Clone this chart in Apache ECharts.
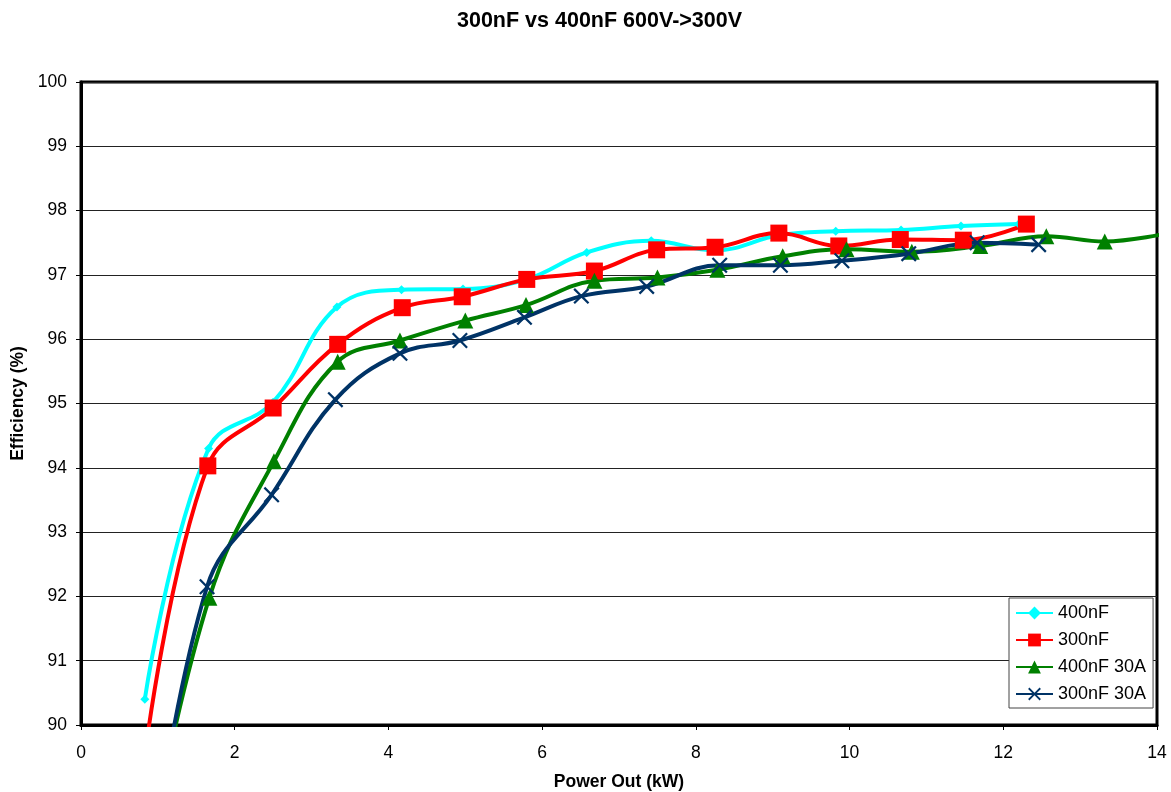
<!DOCTYPE html>
<html><head><meta charset="utf-8">
<script src="https://cdn.jsdelivr.net/npm/echarts@6/dist/echarts.min.js"></script>
<style>html,body{margin:0;padding:0;background:#fff}#c{width:1171px;height:792px}</style>
</head><body><div id="c"></div>
<script>
const titleText = '300nF vs 400nF 600V->300V';
const xName = 'Power Out (kW)';
const yName = 'Efficiency (%)';
const seriesNames = ['400nF', '300nF', '400nF 30A', '300nF 30A'];

const cyanX = [0.83, 1.66, 2.50, 3.33, 4.17, 4.97, 5.80, 6.58, 7.42, 8.25, 9.09, 9.82, 10.67, 11.45, 12.20];
const cyanY = [90.40, 94.30, 95.02, 96.50, 96.77, 96.78, 96.93, 97.35, 97.53, 97.38, 97.62, 97.68, 97.70, 97.76, 97.79];

const redX = [0.84, 1.65, 2.50, 3.34, 4.18, 4.96, 5.80, 6.68, 7.49, 8.25, 9.08, 9.86, 10.66, 11.48, 12.30];
const redY = [89.6, 94.03, 94.93, 95.92, 96.49, 96.66, 96.93, 97.06, 97.39, 97.43, 97.65, 97.45, 97.55, 97.54, 97.79];

const greenX = [0.83, 1.67, 2.51, 3.34, 4.15, 5.00, 5.79, 6.68, 7.50, 8.28, 9.13, 9.96, 10.81, 11.70, 12.56, 13.32, 14.15];
const greenY = [87.7, 91.98, 94.10, 95.65, 95.98, 96.29, 96.53, 96.91, 96.96, 97.08, 97.29, 97.40, 97.36, 97.45, 97.60, 97.52, 97.65];

const blueX = [0.83, 1.64, 2.48, 3.31, 4.15, 4.93, 5.77, 6.51, 7.36, 8.31, 9.10, 9.90, 10.77, 11.66, 12.46];
const blueY = [87.1, 92.15, 93.58, 95.06, 95.78, 95.98, 96.34, 96.67, 96.82, 97.15, 97.15, 97.22, 97.33, 97.50, 97.47];

const pair = (xs, ys) => xs.map((x, i) => [x, ys[i]]);
const FONT = "'Liberation Sans', Arial, sans-serif";
const xSym = 'path://M0,1L1,0L5,4L9,0L10,1L6,5L10,9L9,10L5,6L1,10L0,9L4,5Z';

const chart = echarts.init(document.getElementById('c'), null, {renderer: 'canvas'});
const mk = (name, data, color, symbol, size) => ({
  name, type: 'line', data, smooth: 0.4, symbol, symbolSize: size, showSymbol: true,
  lineStyle: {color, width: 4}, itemStyle: {color}, clip: true, z: 3
});
chart.setOption({
  animation: false,
  backgroundColor: '#fff',
  textStyle: {fontFamily: FONT},
  title: {text: titleText, left: 452, top: 5,
    textStyle: {fontFamily: FONT, fontSize: 21.5, fontWeight: 'bold', color: '#000'}},
  grid: {left: 81, top: 82, width: 1076, height: 643, containLabel: false, outerBoundsMode: 'none',
    show: true, borderColor: '#000', borderWidth: 3, backgroundColor: '#fff'},
  xAxis: {type: 'value', min: 0, max: 14, interval: 2, name: xName, nameLocation: 'middle', nameGap: 48,
    nameTextStyle: {fontFamily: FONT, fontSize: 17.5, fontWeight: 'bold', color: '#000'},
    axisLine: {lineStyle: {color: '#000', width: 3}},
    axisTick: {show: true, length: 5, lineStyle: {color: '#000'}},
    axisLabel: {fontFamily: FONT, fontSize: 17.5, color: '#000', margin: 19},
    splitLine: {show: false}},
  yAxis: {type: 'value', min: 90, max: 100, interval: 1, name: yName, nameLocation: 'middle', nameGap: 54, nameRotate: 90,
    nameTextStyle: {fontFamily: FONT, fontSize: 17.5, fontWeight: 'bold', color: '#000'},
    axisLine: {show: true, lineStyle: {color: '#000', width: 3}},
    axisTick: {show: true, length: 5, lineStyle: {color: '#000'}},
    axisLabel: {fontFamily: FONT, fontSize: 17.5, color: '#000', margin: 14},
    splitLine: {show: true, lineStyle: {color: '#222', width: 1}}},
  legend: {orient: 'vertical', left: 1009, top: 598, padding: [6, 7, 5, 6], itemGap: 9, itemWidth: 37, itemHeight: 16,
    backgroundColor: '#fff', borderColor: '#444', borderWidth: 1, borderRadius: 0,
    textStyle: {fontFamily: FONT, fontSize: 18, color: '#000', padding: [0, 0, 0, 0]},
    data: seriesNames},
  series: [
    mk(seriesNames[0], pair(cyanX, cyanY), '#00FFFF', 'diamond', 9),
    mk(seriesNames[1], pair(redX, redY), '#FF0000', 'rect', 17),
    mk(seriesNames[2], pair(greenX, greenY), '#008000', 'triangle', 16),
    mk(seriesNames[3], pair(blueX, blueY), '#003366', xSym, 16)
  ]
});
</script></body></html>
